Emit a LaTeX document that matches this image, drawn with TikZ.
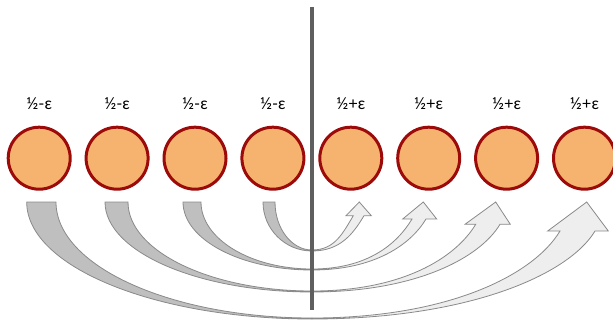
\documentclass[tikz,border=0pt]{standalone}
\usepackage{fontspec}
\setmainfont{Lato}
\definecolor{ballfill}{HTML}{F6B26F}
\definecolor{ballrim}{HTML}{9C0A0A}
\definecolor{backgray}{HTML}{BFBFBF}
\definecolor{frontgray}{HTML}{EEEEEE}
\definecolor{rimgray}{HTML}{8A8A8A}
\definecolor{divgray}{HTML}{5F5F5F}
\begin{document}
\begin{tikzpicture}[x=1pt,y=-1pt,
    ball/.style={circle,draw=ballrim,fill=ballfill,line width=3pt,minimum size=62pt,inner sep=0pt},
    weight/.style={font=\fontsize{16.5}{16.5}\selectfont,anchor=base},
    back/.style={draw=rimgray,fill=backgray,line width=0.8pt},
    front/.style={draw=rimgray,fill=frontgray,line width=0.8pt},
    divider/.style={draw=divgray,line width=3.4pt}]
  \useasboundingbox (0,0) rectangle (613,321);

  % Curved arrows: grey back half on the left, light front half with head on the right
  \foreach \lo/\li/\yb/\rl/\rr/\yh/\hl/\hr/\tx in {
      263/275/251/353.3/364/215.7/346/371.3/359.3,
      183/201/270/412/426/219/402.7/436.7/423.3,
      105/128/292/475.7/500/224.3/465/510.3/495.7,
      26.7/56/319/560/595/231/547.7/608.3/586.7}{
    \pgfmathsetmacro\h{\yb-\yh}
    \draw[back] (\lo,202) .. controls (\lo,{202+0.552*(\yb-202)}) and ({312-0.552*(312-\lo)},\yb) .. (312,\yb)
      -- (312,\yb-1) .. controls ({312-0.552*(312-\li)},\yb-1) and (\li,{202+0.552*(\yb-203)}) .. (\li,202) -- cycle;
    \draw[front] (312,\yb) .. controls ({312+0.55*(\rr-312)},\yb) and ({\rr-0.3*\h},{\yh+0.5*\h}) .. (\rr,\yh)
      -- (\hr,\yh) -- (\tx,202) -- (\hl,\yh) -- (\rl,\yh)
      .. controls ({\rl-0.3*\h},{\yh+0.5*\h}) and ({312+0.55*(\rl-312)},\yb-1) .. (312,\yb-1) -- cycle;
  }

  % Divider
  \coordinate (top) at (312,7);
  \coordinate (bot) at (312,310);
  \draw[divider] (top) -- (bot);

  % Balls and their weights
  \foreach \i in {1,...,8}
    \node[ball] (c\i) at ({39.2+77.9*(\i-1)},158.2) {};
  \foreach \i in {1,...,4}
    \node[weight] (w\i) at ([yshift=16pt]c\i.north) {½-ε};
  \foreach \i in {5,...,8}
    \node[weight] (w\i) at ([yshift=16pt]c\i.north) {½+ε};
\end{tikzpicture}
\end{document}
